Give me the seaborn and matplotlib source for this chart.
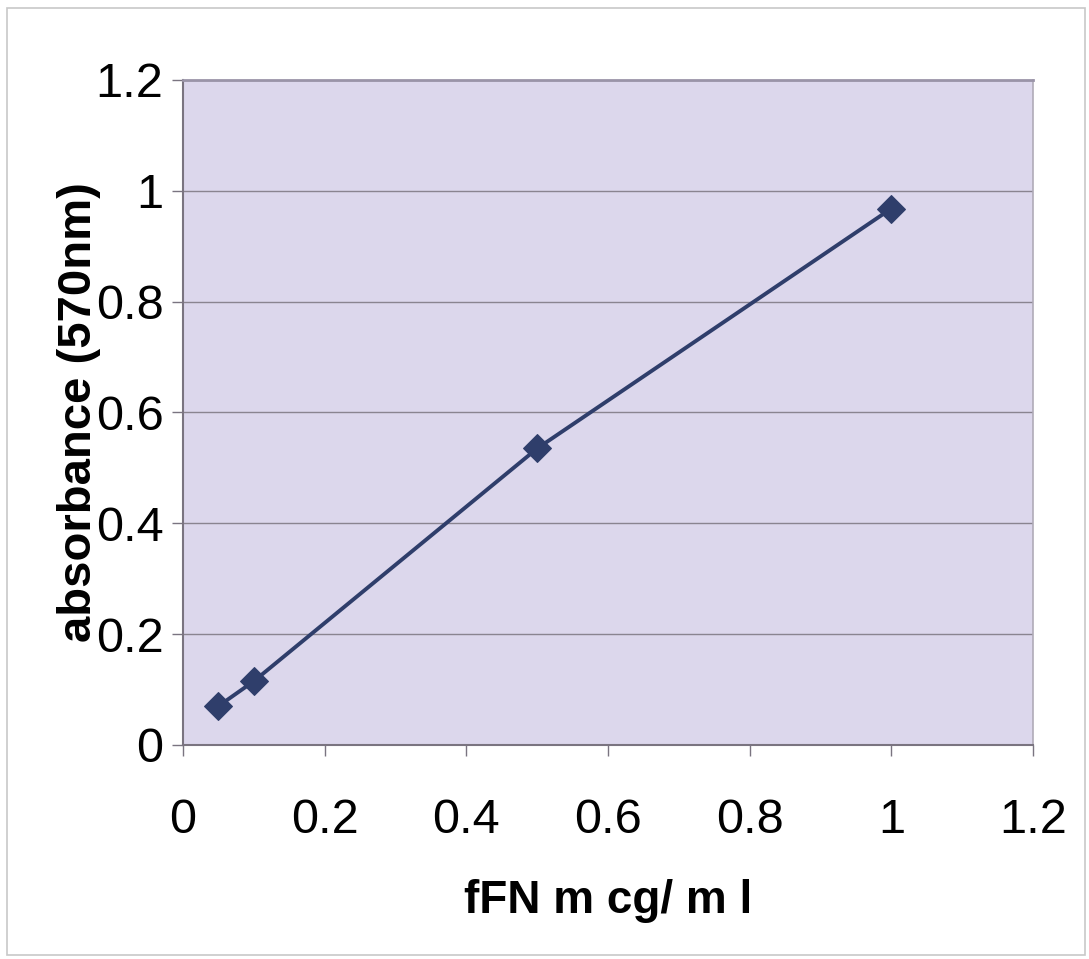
import matplotlib
matplotlib.use("Agg")
import matplotlib.pyplot as plt
import seaborn as sns
import pandas as pd
from matplotlib.patches import Rectangle

conc = [0.05, 0.1, 0.5, 1.0]
absorbance = [0.07, 0.115, 0.535, 0.968]
xticks = [0, 0.2, 0.4, 0.6, 0.8, 1, 1.2]
yticks = [0, 0.2, 0.4, 0.6, 0.8, 1, 1.2]
xtick_labels = ["0", "0.2", "0.4", "0.6", "0.8", "1", "1.2"]
ytick_labels = ["0", "0.2", "0.4", "0.6", "0.8", "1", "1.2"]

sns.set_theme(style="white")
plt.rcParams['font.family'] = ['Liberation Sans', 'DejaVu Sans']
plt.rcParams['text.color'] = 'black'
plt.rcParams['axes.labelcolor'] = 'black'
plt.rcParams['xtick.color'] = 'black'
plt.rcParams['ytick.color'] = 'black'

df = pd.DataFrame({"conc": conc, "abs": absorbance})

fig = plt.figure(figsize=(10.89, 9.59), dpi=100)
fig.patch.set_facecolor("white")
ax = fig.add_axes([0.168, 0.2232, 0.7806, 0.6934])
ax.set_facecolor("#dcd7ec")

sns.lineplot(data=df, x="conc", y="abs", ax=ax, color="#2f3e6b", linewidth=2.8,
             marker="D", markersize=14, markeredgecolor="#2f3e6b",
             markerfacecolor="#2f3e6b", zorder=5)

ax.set_xlim(0, 1.2)
ax.set_ylim(0, 1.2)
ax.set_xticks(xticks)
ax.set_xticklabels(xtick_labels)
ax.set_yticks(yticks)
ax.set_yticklabels(ytick_labels)
ax.yaxis.grid(True, color="#8a8490", linewidth=1.0)
ax.xaxis.grid(False)
ax.set_axisbelow(True)

ax.tick_params(axis="x", direction="out", length=8, width=1, color="#7a7480",
               labelcolor="black", labelsize=35, pad=30, bottom=True)
ax.tick_params(axis="y", direction="out", length=8, width=1, color="#7a7480",
               labelcolor="black", labelsize=35, pad=6, left=True)

for side in ["left", "bottom"]:
    ax.spines[side].set_color("#7a7480")
    ax.spines[side].set_linewidth(1.5)
ax.spines["top"].set_color("#9a94a8")
ax.spines["top"].set_linewidth(2.0)
ax.spines["right"].set_color("#b0abb8")
ax.spines["right"].set_linewidth(1.2)

ax.set_xlabel("fFN m cg/ m l", fontsize=33, fontweight="bold", labelpad=26,
              color="black")
ax.set_ylabel("absorbance (570nm)", fontsize=34, fontweight="bold", labelpad=-4,
              color="black")

fig.patches.append(Rectangle((0.006, 0.004), 0.99, 0.988, transform=fig.transFigure,
                             fill=False, edgecolor="#c8c8c8", linewidth=1.2))

fig.savefig("out.png", dpi=100)
